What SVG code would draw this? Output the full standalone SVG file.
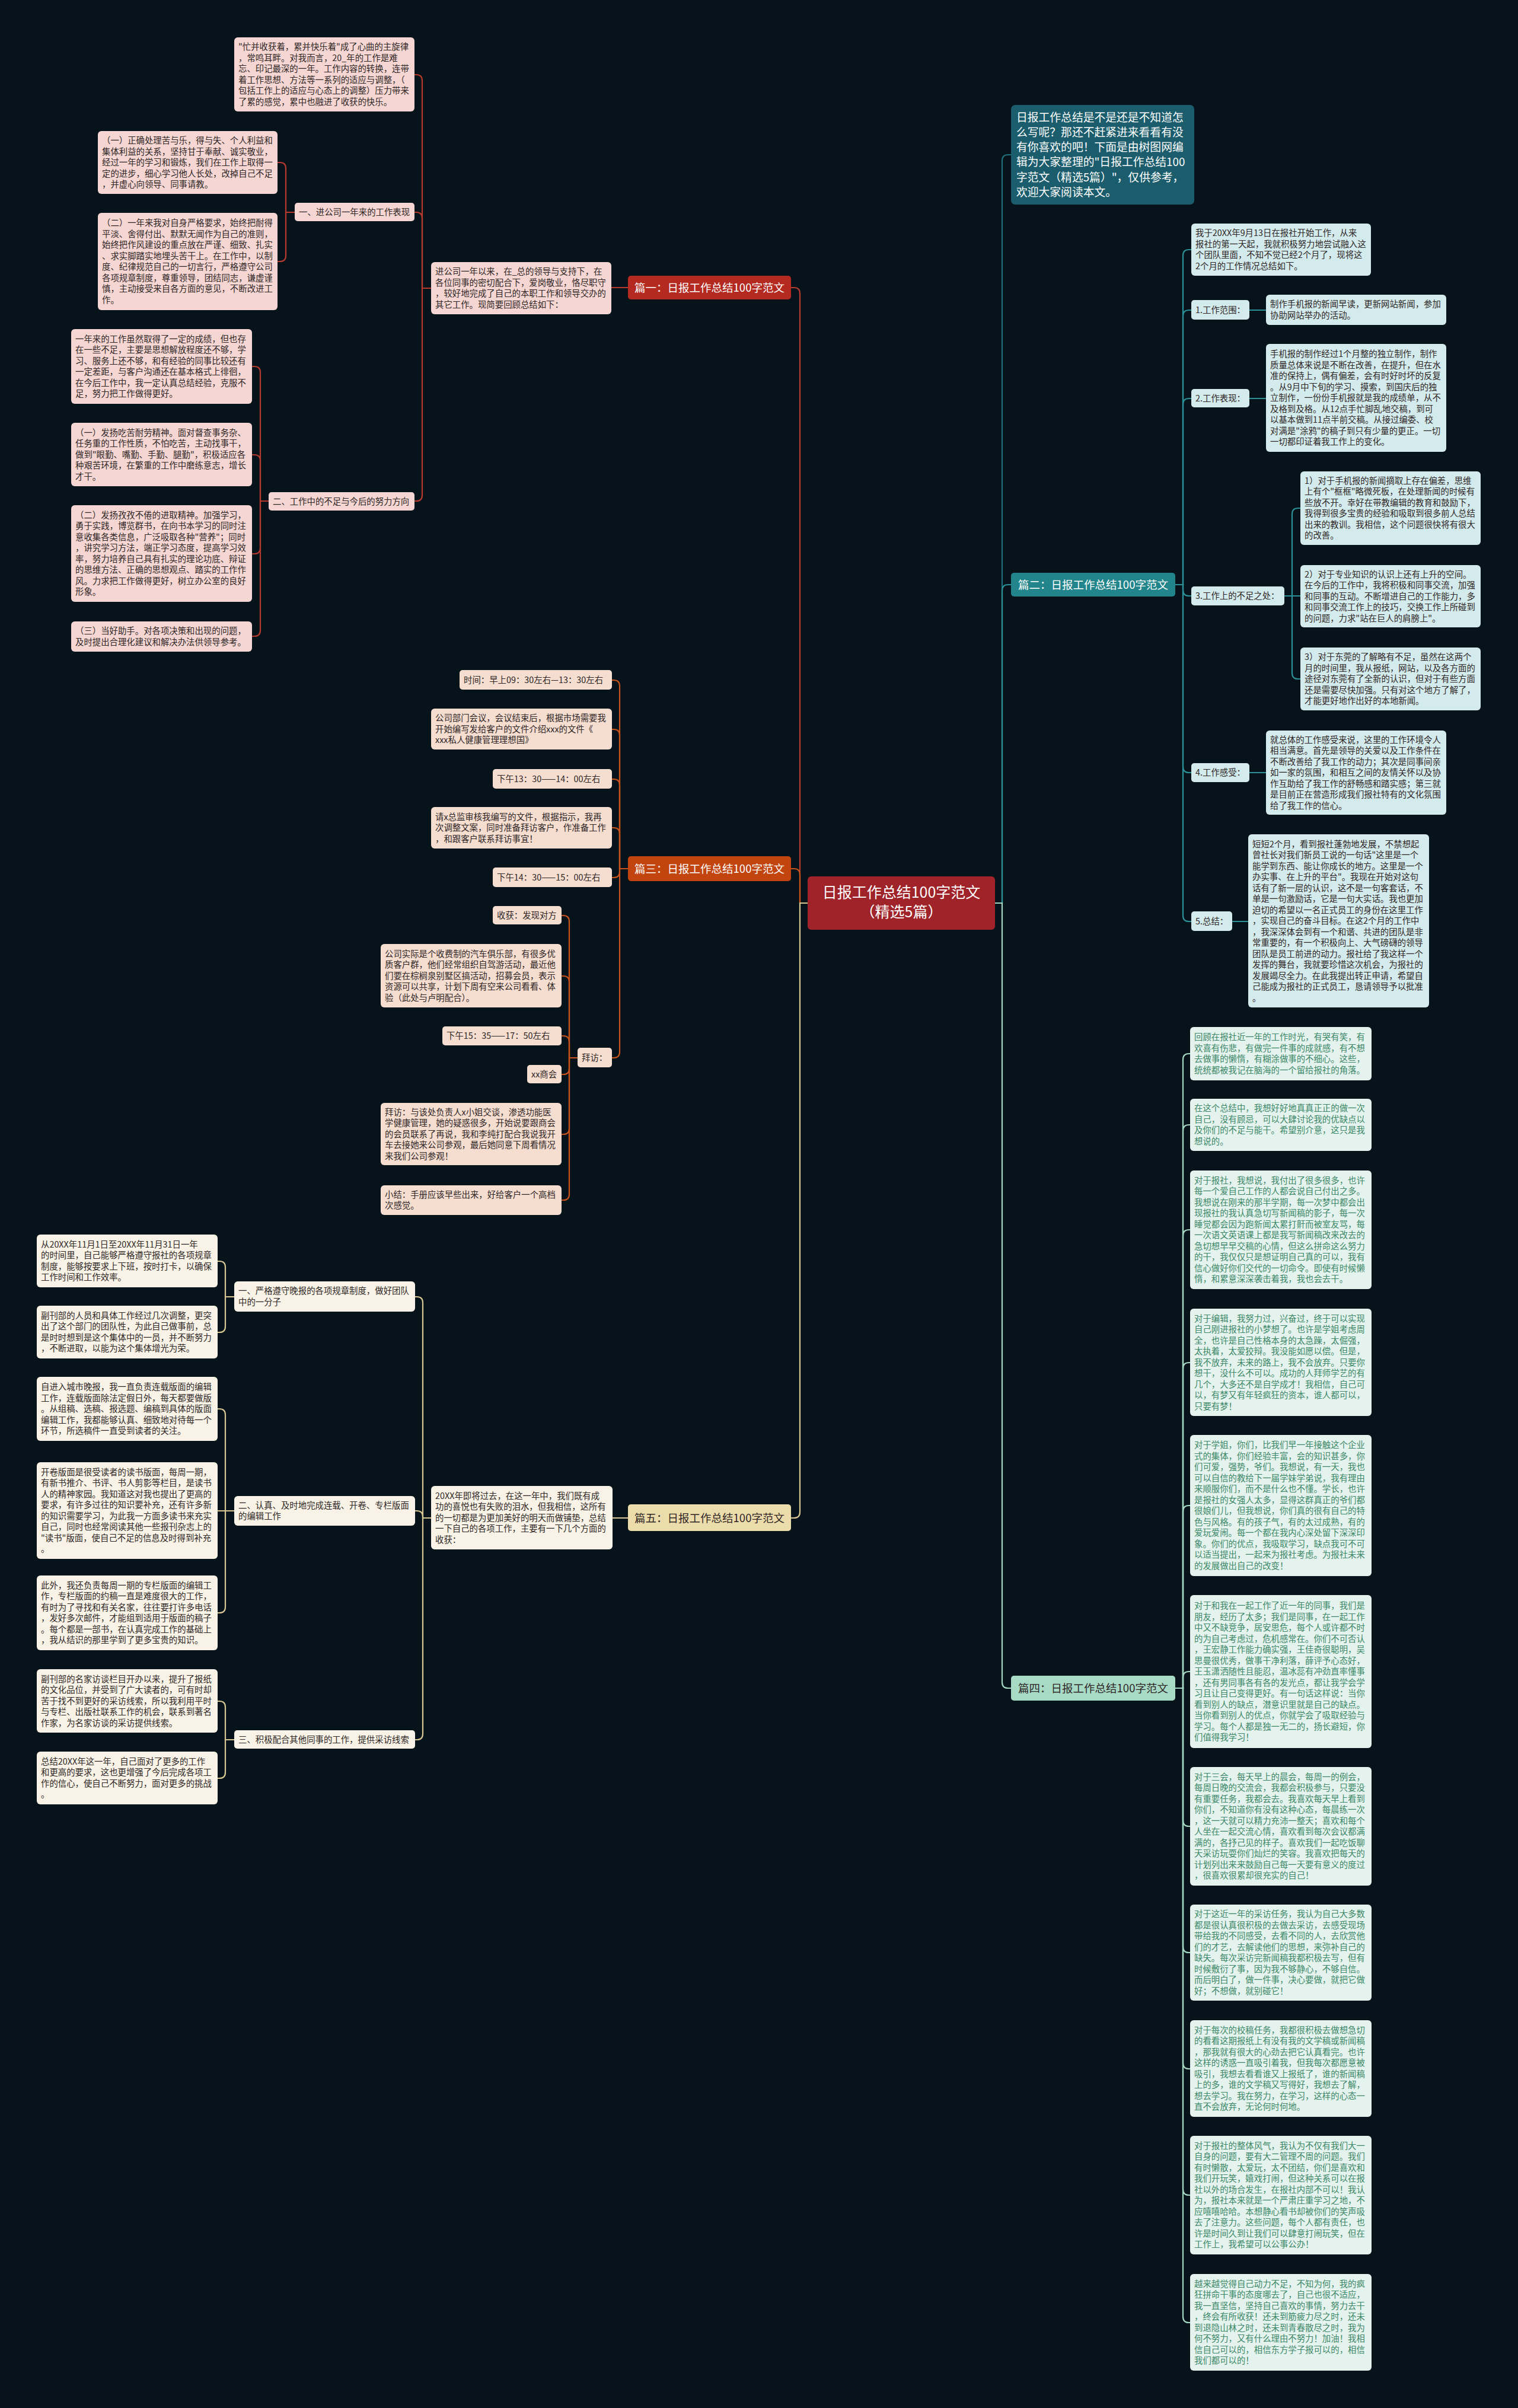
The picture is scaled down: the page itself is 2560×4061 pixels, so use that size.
<svg xmlns="http://www.w3.org/2000/svg" width="2560" height="4061" viewBox="0 0 2560 4061">
<style>
text{font-family:"Noto Sans CJK SC","Noto Sans",sans-serif;}
.t{font-size:14.4px;}
.b{font-size:18.5px;}
.w{fill:#ffffff;}
.d{fill:#2f2626;}
.g{fill:#3b8767;}
.c path{fill:none;stroke-width:2.2;stroke-linecap:round;}
.l1{stroke:#b63a2e;}
.l3{stroke:#c9531d;}
.l5{stroke:#d9c894;}
.l2{stroke:#2b9098;}
.l0{stroke:#1f6f7c;}
.l4{stroke:#a5d6c2;}
.f1{fill:#f5d6d3;}
.f3{fill:#f5ddd0;}
.f5{fill:#f8f3e6;}
.f2{fill:#d4ebed;}
.f4{fill:#e5f3ee;}
</style>
<rect x="0" y="0" width="2560" height="4061" fill="#07131a"/>

<g id="connectors" class="c">
<path class="l1" d="M1362,1523 H1349 V495 Q1349,485 1339,485 H1334"/>
<path class="l3" d="M1362,1523 H1349 V1475 Q1349,1465 1339,1465 H1334"/>
<path class="l5" d="M1362,1523 H1349 V2550 Q1349,2560 1339,2560 H1334"/>
<path class="l0" d="M1678,1523 H1690 V271 Q1690,261 1700,261 H1705"/>
<path class="l2" d="M1678,1523 H1690 V996 Q1690,986 1700,986 H1705"/>
<path class="l4" d="M1678,1523 H1690 V2837 Q1690,2847 1700,2847 H1705"/>

<path class="l1" d="M1059,485 H1031"/>
<path class="l1" d="M727,486 H712 V136 Q712,126 702,126 H699"/>
<path class="l1" d="M727,486 H712 V368 Q712,358 702,358 H699"/>
<path class="l1" d="M727,486 H712 V835 Q712,845 702,845 H699"/>
<path class="l1" d="M497,358 H482 V284 Q482,274 472,274 H468"/>
<path class="l1" d="M497,358 H482 V431 Q482,441 472,441 H468"/>
<path class="l1" d="M453,845 H439 V628 Q439,618 429,618 H425"/>
<path class="l1" d="M453,845 H439 V777 Q439,767 429,767 H425"/>
<path class="l1" d="M453,845 H439 V924 Q439,934 429,934 H425"/>
<path class="l1" d="M453,845 H439 V1063 Q439,1073 429,1073 H425"/>

<path class="l3" d="M1059,1465 H1045 V1157 Q1045,1147 1035,1147 H1032"/>
<path class="l3" d="M1059,1465 H1045 V1240 Q1045,1230 1035,1230 H1032"/>
<path class="l3" d="M1059,1465 H1045 V1324 Q1045,1314 1035,1314 H1032"/>
<path class="l3" d="M1059,1465 H1045 V1406 Q1045,1396 1035,1396 H1032"/>
<path class="l3" d="M1059,1465 H1045 V1470 Q1045,1480 1035,1480 H1032"/>
<path class="l3" d="M1059,1465 H1045 V1774 Q1045,1784 1035,1784 H1032"/>
<path class="l3" d="M974,1784 H960 V1554 Q960,1544 950,1544 H947"/>
<path class="l3" d="M974,1784 H960 V1656 Q960,1646 950,1646 H947"/>
<path class="l3" d="M974,1784 H960 V1757 Q960,1747 950,1747 H947"/>
<path class="l3" d="M974,1784 H960 V1802 Q960,1812 950,1812 H947"/>
<path class="l3" d="M974,1784 H960 V1903 Q960,1913 950,1913 H947"/>
<path class="l3" d="M974,1784 H960 V2014 Q960,2024 950,2024 H947"/>

<path class="l5" d="M1059,2560 H1033"/>
<path class="l5" d="M727,2560 H713 V2197 Q713,2187 703,2187 H700"/>
<path class="l5" d="M727,2560 H713 V2558 Q713,2548 703,2548 H700"/>
<path class="l5" d="M727,2560 H713 V2924 Q713,2934 703,2934 H700"/>
<path class="l5" d="M395,2187 H380 V2137 Q380,2127 370,2127 H367"/>
<path class="l5" d="M395,2187 H380 V2237 Q380,2247 370,2247 H367"/>
<path class="l5" d="M395,2548 H380 V2386 Q380,2376 370,2376 H367"/>
<path class="l5" d="M395,2548 H367"/>
<path class="l5" d="M395,2548 H380 V2710 Q380,2720 370,2720 H367"/>
<path class="l5" d="M395,2934 H380 V2879 Q380,2869 370,2869 H367"/>
<path class="l5" d="M395,2934 H380 V2989 Q380,2999 370,2999 H367"/>

<path class="l2" d="M1982,986 H1995 V431 Q1995,421 2005,421 H2009"/>
<path class="l2" d="M1982,986 H1995 V533 Q1995,523 2005,523 H2009"/>
<path class="l2" d="M1982,986 H1995 V682 Q1995,672 2005,672 H2009"/>
<path class="l2" d="M1982,986 H1995 V995 Q1995,1005 2005,1005 H2009"/>
<path class="l2" d="M1982,986 H1995 V1293 Q1995,1303 2005,1303 H2009"/>
<path class="l2" d="M1982,986 H1995 V1544 Q1995,1554 2005,1554 H2009"/>
<path class="l2" d="M2107,523 H2135"/>
<path class="l2" d="M2107,672 H2135"/>
<path class="l2" d="M2166,1005 H2179 V867 Q2179,857 2189,857 H2193"/>
<path class="l2" d="M2166,1005 H2193"/>
<path class="l2" d="M2166,1005 H2179 V1135 Q2179,1145 2189,1145 H2193"/>
<path class="l2" d="M2107,1303 H2135"/>
<path class="l2" d="M2078,1554 H2105"/>

<path class="l4" d="M1982,2847 H1995 V1787 Q1995,1777 2005,1777 H2007"/>
<path class="l4" d="M1982,2847 H1995 V1907 Q1995,1897 2005,1897 H2007"/>
<path class="l4" d="M1982,2847 H1995 V2084 Q1995,2074 2005,2074 H2007"/>
<path class="l4" d="M1982,2847 H1995 V2308 Q1995,2298 2005,2298 H2007"/>
<path class="l4" d="M1982,2847 H1995 V2549 Q1995,2539 2005,2539 H2007"/>
<path class="l4" d="M1982,2847 H1995 V2829 Q1995,2819 2005,2819 H2007"/>
<path class="l4" d="M1982,2847 H1995 V3070 Q1995,3080 2005,3080 H2007"/>
<path class="l4" d="M1982,2847 H1995 V3283 Q1995,3293 2005,3293 H2007"/>
<path class="l4" d="M1982,2847 H1995 V3479 Q1995,3489 2005,3489 H2007"/>
<path class="l4" d="M1982,2847 H1995 V3692 Q1995,3702 2005,3702 H2007"/>
<path class="l4" d="M1982,2847 H1995 V3907 Q1995,3917 2005,3917 H2007"/>
</g>

<g id="n-root">
<rect x="1362" y="1478" width="316" height="90" rx="6" fill="#a0232a"/>
<text class="w" font-size="25" text-anchor="middle" x="1520" y="1514">日报工作总结100字范文</text>
<text class="w" font-size="25" text-anchor="middle" x="1520" y="1547">（精选5篇）</text>
</g>

<!-- 篇一 -->
<g id="n-p1">
<rect x="1059" y="465" width="275" height="40" rx="5" fill="#b52a20"/>
<text class="b w" text-anchor="middle" x="1196.5" y="491.5">篇一：日报工作总结100字范文</text>
</g>
<g id="n-p1-main">
<rect class="f1" x="727" y="442" width="304" height="88" rx="6"/>
<text class="t d" x="734" y="463.25"><tspan x="734">进公司一年以来，在_总的领导与支持下，在</tspan><tspan x="734" dy="18.5">各位同事的密切配合下，爱岗敬业，恪尽职守</tspan><tspan x="734" dy="18.5">，较好地完成了自己的本职工作和领导交办的</tspan><tspan x="734" dy="18.5">其它工作。现简要回顾总结如下：</tspan></text>
</g>
<g id="n-p1-intro">
<rect class="f1" x="395" y="63" width="304" height="125" rx="6"/>
<text class="t d" x="402" y="84.25"><tspan x="402">"忙并收获着，累并快乐着"成了心曲的主旋律</tspan><tspan x="402" dy="18.5">，常鸣耳畔。对我而言，20_年的工作是难</tspan><tspan x="402" dy="18.5">忘、印记最深的一年。工作内容的转换，连带</tspan><tspan x="402" dy="18.5">着工作思想、方法等一系列的适应与调整，（</tspan><tspan x="402" dy="18.5">包括工作上的适应与心态上的调整）压力带来</tspan><tspan x="402" dy="18.5">了累的感觉，累中也融进了收获的快乐。</tspan></text>
</g>
<g id="n-p1-s1">
<rect class="f1" x="497" y="342" width="202" height="31" rx="5"/>
<text class="t d" x="504" y="362.5">一、进公司一年来的工作表现</text>
</g>
<g id="n-p1-s1a">
<rect class="f1" x="165" y="221" width="303" height="106" rx="6"/>
<text class="t d" x="172" y="242"><tspan x="172">（一）正确处理苦与乐，得与失、个人利益和</tspan><tspan x="172" dy="18.5">集体利益的关系，坚持甘于奉献、诚实敬业，</tspan><tspan x="172" dy="18.5">经过一年的学习和锻炼，我们在工作上取得一</tspan><tspan x="172" dy="18.5">定的进步，细心学习他人长处，改掉自己不足</tspan><tspan x="172" dy="18.5">，并虚心向领导、同事请教。</tspan></text>
</g>
<g id="n-p1-s1b">
<rect class="f1" x="165" y="359" width="303" height="164" rx="6"/>
<text class="t d" x="172" y="381.25"><tspan x="172">（二）一年来我对自身严格要求，始终把耐得</tspan><tspan x="172" dy="18.5">平淡、舍得付出、默默无闻作为自己的准则，</tspan><tspan x="172" dy="18.5">始终把作风建设的重点放在严谨、细致、扎实</tspan><tspan x="172" dy="18.5">、求实脚踏实地埋头苦干上。在工作中，以制</tspan><tspan x="172" dy="18.5">度、纪律规范自己的一切言行，严格遵守公司</tspan><tspan x="172" dy="18.5">各项规章制度，尊重领导，团结同志，谦虚谨</tspan><tspan x="172" dy="18.5">慎，主动接受来自各方面的意见，不断改进工</tspan><tspan x="172" dy="18.5">作。</tspan></text>
</g>
<g id="n-p1-s2">
<rect class="f1" x="453" y="830" width="246" height="31" rx="5"/>
<text class="t d" x="460" y="850.5">二、工作中的不足与今后的努力方向</text>
</g>
<g id="n-p1-s2a">
<rect class="f1" x="120" y="555" width="305" height="126" rx="6"/>
<text class="t d" x="127" y="576.75"><tspan x="127">一年来的工作虽然取得了一定的成绩，但也存</tspan><tspan x="127" dy="18.5">在一些不足，主要是思想解放程度还不够，学</tspan><tspan x="127" dy="18.5">习、服务上还不够，和有经验的同事比较还有</tspan><tspan x="127" dy="18.5">一定差距，与客户沟通还在基本格式上徘徊，</tspan><tspan x="127" dy="18.5">在今后工作中，我一定认真总结经验，克服不</tspan><tspan x="127" dy="18.5">足，努力把工作做得更好。</tspan></text>
</g>
<g id="n-p1-s2b">
<rect class="f1" x="120" y="713" width="305" height="107" rx="6"/>
<text class="t d" x="127" y="734.5"><tspan x="127">（一）发扬吃苦耐劳精神。面对督查事务杂、</tspan><tspan x="127" dy="18.5">任务重的工作性质，不怕吃苦，主动找事干，</tspan><tspan x="127" dy="18.5">做到"眼勤、嘴勤、手勤、腿勤"，积极适应各</tspan><tspan x="127" dy="18.5">种艰苦环境，在繁重的工作中磨练意志，增长</tspan><tspan x="127" dy="18.5">才干。</tspan></text>
</g>
<g id="n-p1-s2c">
<rect class="f1" x="120" y="852" width="305" height="163" rx="6"/>
<text class="t d" x="127" y="873.75"><tspan x="127">（二）发扬孜孜不倦的进取精神。加强学习，</tspan><tspan x="127" dy="18.5">勇于实践，博览群书，在向书本学习的同时注</tspan><tspan x="127" dy="18.5">意收集各类信息，广泛吸取各种"营养"；同时</tspan><tspan x="127" dy="18.5">，讲究学习方法，端正学习态度，提高学习效</tspan><tspan x="127" dy="18.5">率，努力培养自己具有扎实的理论功底、辩证</tspan><tspan x="127" dy="18.5">的思维方法、正确的思想观点、踏实的工作作</tspan><tspan x="127" dy="18.5">风。力求把工作做得更好，树立办公室的良好</tspan><tspan x="127" dy="18.5">形象。</tspan></text>
</g>
<g id="n-p1-s2d">
<rect class="f1" x="120" y="1048" width="305" height="51" rx="6"/>
<text class="t d" x="127" y="1069.25"><tspan x="127">（三）当好助手。对各项决策和出现的问题，</tspan><tspan x="127" dy="18.5">及时提出合理化建议和解决办法供领导参考。</tspan></text>
</g>

<!-- 篇三 -->
<g id="n-p3">
<rect x="1059" y="1444" width="275" height="42" rx="5" fill="#c2440f"/>
<text class="b w" text-anchor="middle" x="1196.5" y="1471.5">篇三：日报工作总结100字范文</text>
</g>
<g id="n-p3-1">
<rect class="f3" x="775" y="1130" width="257" height="33" rx="5"/>
<text class="t d" x="782" y="1151.5">时间：早上09：30左右—13：30左右</text>
</g>
<g id="n-p3-2">
<rect class="f3" x="727" y="1195" width="305" height="69" rx="6"/>
<text class="t d" x="734" y="1216"><tspan x="734">公司部门会议，会议结束后，根据市场需要我</tspan><tspan x="734" dy="18.5">开始编写发给客户的文件介绍xxx的文件《</tspan><tspan x="734" dy="18.5">xxx私人健康管理理想国》</tspan></text>
</g>
<g id="n-p3-3">
<rect class="f3" x="831" y="1297" width="201" height="33" rx="5"/>
<text class="t d" x="838" y="1318.5">下午13：30——14：00左右</text>
</g>
<g id="n-p3-4">
<rect class="f3" x="727" y="1361" width="305" height="70" rx="6"/>
<text class="t d" x="734" y="1382.5"><tspan x="734">请x总监审核我编写的文件，根据指示，我再</tspan><tspan x="734" dy="18.5">次调整文案，同时准备拜访客户，作准备工作</tspan><tspan x="734" dy="18.5">，和跟客户联系拜访事宜！</tspan></text>
</g>
<g id="n-p3-5">
<rect class="f3" x="831" y="1463" width="201" height="33" rx="5"/>
<text class="t d" x="838" y="1484.5">下午14：30——15：00左右</text>
</g>
<g id="n-p3-6">
<rect class="f3" x="974" y="1767" width="58" height="33" rx="5"/>
<text class="t d" x="981" y="1788.5">拜访：</text>
</g>
<g id="n-p3-6a">
<rect class="f3" x="831" y="1528" width="116" height="31" rx="5"/>
<text class="t d" x="838" y="1548.5">收获：发现对方</text>
</g>
<g id="n-p3-6b">
<rect class="f3" x="642" y="1592" width="305" height="107" rx="6"/>
<text class="t d" x="649" y="1613.5"><tspan x="649">公司实际是个收费制的汽车俱乐部，有很多优</tspan><tspan x="649" dy="18.5">质客户群，他们经常组织自驾游活动，最近他</tspan><tspan x="649" dy="18.5">们要在棕榈泉别墅区搞活动，招募会员，表示</tspan><tspan x="649" dy="18.5">资源可以共享，计划下周有空来公司看看、体</tspan><tspan x="649" dy="18.5">验（此处与卢明配合）。</tspan></text>
</g>
<g id="n-p3-6c">
<rect class="f3" x="746" y="1731" width="201" height="32" rx="5"/>
<text class="t d" x="753" y="1752">下午15：35——17：50左右</text>
</g>
<g id="n-p3-6d">
<rect class="f3" x="889" y="1796" width="58" height="31" rx="5"/>
<text class="t d" x="896" y="1816.5">xx商会</text>
</g>
<g id="n-p3-6e">
<rect class="f3" x="642" y="1860" width="305" height="105" rx="6"/>
<text class="t d" x="649" y="1880.5"><tspan x="649">拜访：与该处负责人x小姐交谈，渗透功能医</tspan><tspan x="649" dy="18.5">学健康管理，她的疑惑很多，开始说要跟商会</tspan><tspan x="649" dy="18.5">的会员联系了再说，我和李纯打配合我说我开</tspan><tspan x="649" dy="18.5">车去接她来公司参观，最后她同意下周看情况</tspan><tspan x="649" dy="18.5">来我们公司参观！</tspan></text>
</g>
<g id="n-p3-6f">
<rect class="f3" x="642" y="1999" width="305" height="50" rx="6"/>
<text class="t d" x="649" y="2019.75"><tspan x="649">小结：手册应该早些出来，好给客户一个高档</tspan><tspan x="649" dy="18.5">次感觉。</tspan></text>
</g>

<!-- 篇五 -->
<g id="n-p5">
<rect x="1059" y="2537" width="275" height="45" rx="5" fill="#eddcab"/>
<text class="b d" text-anchor="middle" x="1196.5" y="2566.5">篇五：日报工作总结100字范文</text>
</g>
<g id="n-p5-main">
<rect class="f5" x="727" y="2506" width="306" height="107" rx="6"/>
<text class="t d" x="734" y="2527.5"><tspan x="734">20XX年即将过去，在这一年中，我们既有成</tspan><tspan x="734" dy="18.5">功的喜悦也有失败的泪水，但我相信，这所有</tspan><tspan x="734" dy="18.5">的一切都是为更加美好的明天而做铺垫，总结</tspan><tspan x="734" dy="18.5">一下自己的各项工作，主要有一下几个方面的</tspan><tspan x="734" dy="18.5">收获：</tspan></text>
</g>
<g id="n-p5-s1">
<rect class="f5" x="395" y="2161" width="305" height="51" rx="6"/>
<text class="t d" x="402" y="2182.25"><tspan x="402">一、严格遵守晚报的各项规章制度，做好团队</tspan><tspan x="402" dy="18.5">中的一分子</tspan></text>
</g>
<g id="n-p5-s1a">
<rect class="f5" x="62" y="2082" width="305" height="89" rx="6"/>
<text class="t d" x="69" y="2103.75"><tspan x="69">从20XX年11月1日至20XX年11月31日一年</tspan><tspan x="69" dy="18.5">的时间里，自己能够严格遵守报社的各项规章</tspan><tspan x="69" dy="18.5">制度，能够按要求上下班，按时打卡，以确保</tspan><tspan x="69" dy="18.5">工作时间和工作效率。</tspan></text>
</g>
<g id="n-p5-s1b">
<rect class="f5" x="62" y="2202" width="305" height="89" rx="6"/>
<text class="t d" x="69" y="2223.75"><tspan x="69">副刊部的人员和具体工作经过几次调整，更突</tspan><tspan x="69" dy="18.5">出了这个部门的团队性，为此自己做事前，总</tspan><tspan x="69" dy="18.5">是时时想到是这个集体中的一员，并不断努力</tspan><tspan x="69" dy="18.5">，不断进取，以能为这个集体增光为荣。</tspan></text>
</g>
<g id="n-p5-s2">
<rect class="f5" x="395" y="2523" width="305" height="50" rx="6"/>
<text class="t d" x="402" y="2543.75"><tspan x="402">二、认真、及时地完成连载、开卷、专栏版面</tspan><tspan x="402" dy="18.5">的编辑工作</tspan></text>
</g>
<g id="n-p5-s2a">
<rect class="f5" x="62" y="2322" width="305" height="108" rx="6"/>
<text class="t d" x="69" y="2344"><tspan x="69">自进入城市晚报，我一直负责连载版面的编辑</tspan><tspan x="69" dy="18.5">工作，连载版面除法定假日外，每天都要做版</tspan><tspan x="69" dy="18.5">。从组稿、选稿、报选题、编稿到具体的版面</tspan><tspan x="69" dy="18.5">编辑工作，我都能够认真、细致地对待每一个</tspan><tspan x="69" dy="18.5">环节，所选稿件一直受到读者的关注。</tspan></text>
</g>
<g id="n-p5-s2b">
<rect class="f5" x="62" y="2466" width="305" height="163" rx="6"/>
<text class="t d" x="69" y="2487.75"><tspan x="69">开卷版面是很受读者的读书版面，每周一期，</tspan><tspan x="69" dy="18.5">有新书推介、书评、书人剪影等栏目，是读书</tspan><tspan x="69" dy="18.5">人的精神家园。我知道这对我也提出了更高的</tspan><tspan x="69" dy="18.5">要求，有许多过往的知识要补充，还有许多新</tspan><tspan x="69" dy="18.5">的知识需要学习，为此我一方面多读书来充实</tspan><tspan x="69" dy="18.5">自己，同时也经常阅读其他一些报刊杂志上的</tspan><tspan x="69" dy="18.5">"读书"版面，使自己不足的信息及时得到补充</tspan><tspan x="69" dy="18.5">。</tspan></text>
</g>
<g id="n-p5-s2c">
<rect class="f5" x="62" y="2657" width="305" height="126" rx="6"/>
<text class="t d" x="69" y="2678.75"><tspan x="69">此外，我还负责每周一期的专栏版面的编辑工</tspan><tspan x="69" dy="18.5">作，专栏版面的约稿一直是难度很大的工作，</tspan><tspan x="69" dy="18.5">有时为了寻找和有关名家，往往要打许多电话</tspan><tspan x="69" dy="18.5">，发好多次邮件，才能组到适用于版面的稿子</tspan><tspan x="69" dy="18.5">。每个都是一部书，在认真完成工作的基础上</tspan><tspan x="69" dy="18.5">，我从结识的那里学到了更多宝贵的知识。</tspan></text>
</g>
<g id="n-p5-s3">
<rect class="f5" x="395" y="2918" width="305" height="31" rx="5"/>
<text class="t d" x="402" y="2938.5">三、积极配合其他同事的工作，提供采访线索</text>
</g>
<g id="n-p5-s3a">
<rect class="f5" x="62" y="2815" width="305" height="107" rx="6"/>
<text class="t d" x="69" y="2836.5"><tspan x="69">副刊部的名家访谈栏目开办以来，提升了报纸</tspan><tspan x="69" dy="18.5">的文化品位，并受到了广大读者的，可有时却</tspan><tspan x="69" dy="18.5">苦于找不到更好的采访线索，所以我利用平时</tspan><tspan x="69" dy="18.5">与专栏、出版社联系工作的机会，联系到著名</tspan><tspan x="69" dy="18.5">作家，为名家访谈的采访提供线索。</tspan></text>
</g>
<g id="n-p5-s3b">
<rect class="f5" x="62" y="2954" width="305" height="89" rx="6"/>
<text class="t d" x="69" y="2975.75"><tspan x="69">总结20XX年这一年，自己面对了更多的工作</tspan><tspan x="69" dy="18.5">和更高的要求，这也更增强了今后完成各项工</tspan><tspan x="69" dy="18.5">作的信心，使自己不断努力，面对更多的挑战</tspan><tspan x="69" dy="18.5">。</tspan></text>
</g>

<!-- intro -->
<g id="n-intro">
<rect x="1705" y="177" width="309" height="168" rx="7" fill="#1c5d6d"/>
<text class="w" font-size="18.8" x="1714" y="204.5"><tspan x="1714">日报工作总结是不是还是不知道怎</tspan><tspan x="1714" dy="25.3">么写呢？那还不赶紧进来看看有没</tspan><tspan x="1714" dy="25.3">有你喜欢的吧！下面是由树图网编</tspan><tspan x="1714" dy="25.3">辑为大家整理的"日报工作总结100</tspan><tspan x="1714" dy="25.3">字范文（精选5篇）"，仅供参考，</tspan><tspan x="1714" dy="25.3">欢迎大家阅读本文。</tspan></text>
</g>

<!-- 篇二 -->
<g id="n-p2">
<rect x="1705" y="966" width="277" height="40" rx="5" fill="#22858c"/>
<text class="b w" text-anchor="middle" x="1843.5" y="992.5">篇二：日报工作总结100字范文</text>
</g>
<g id="n-p2-1">
<rect class="f2" x="2009" y="377" width="303" height="88" rx="6"/>
<text class="t d" x="2016" y="398.25"><tspan x="2016">我于20XX年9月13日在报社开始工作，从来</tspan><tspan x="2016" dy="18.5">报社的第一天起，我就积极努力地尝试融入这</tspan><tspan x="2016" dy="18.5">个团队里面，不知不觉已经2个月了，现将这</tspan><tspan x="2016" dy="18.5">2个月的工作情况总结如下。</tspan></text>
</g>
<g id="n-p2-2">
<rect class="f2" x="2009" y="506" width="98" height="33" rx="5"/>
<text class="t d" x="2016" y="527.5">1.工作范围：</text>
</g>
<g id="n-p2-2a">
<rect class="f2" x="2135" y="497" width="304" height="51" rx="6"/>
<text class="t d" x="2142" y="518.25"><tspan x="2142">制作手机报的新闻早读，更新网站新闻，参加</tspan><tspan x="2142" dy="18.5">协助网站举办的活动。</tspan></text>
</g>
<g id="n-p2-3">
<rect class="f2" x="2009" y="656" width="98" height="31" rx="5"/>
<text class="t d" x="2016" y="676.5">2.工作表现：</text>
</g>
<g id="n-p2-3a">
<rect class="f2" x="2135" y="580" width="304" height="182" rx="6"/>
<text class="t d" x="2142" y="602"><tspan x="2142">手机报的制作经过1个月整的独立制作，制作</tspan><tspan x="2142" dy="18.5">质量总体来说是不断在改善，在提升，但在水</tspan><tspan x="2142" dy="18.5">准的保持上，偶有偏差，会有时好时坏的反复</tspan><tspan x="2142" dy="18.5">。从9月中下旬的学习、摸索，到国庆后的独</tspan><tspan x="2142" dy="18.5">立制作，一份份手机报就是我的成绩单，从不</tspan><tspan x="2142" dy="18.5">及格到及格。从12点手忙脚乱地交稿，到可</tspan><tspan x="2142" dy="18.5">以基本做到11点半前交稿。从接过编委、校</tspan><tspan x="2142" dy="18.5">对满是"涂鸦"的稿子到只有少量的更正。一切</tspan><tspan x="2142" dy="18.5">一切都印证着我工作上的变化。</tspan></text>
</g>
<g id="n-p2-4">
<rect class="f2" x="2009" y="989" width="157" height="32" rx="5"/>
<text class="t d" x="2016" y="1010">3.工作上的不足之处：</text>
</g>
<g id="n-p2-4a">
<rect class="f2" x="2193" y="795" width="304" height="124" rx="6"/>
<text class="t d" x="2200" y="815.75"><tspan x="2200">1）对于手机报的新闻摘取上存在偏差，思维</tspan><tspan x="2200" dy="18.5">上有个"框框"略微死板，在处理新闻的时候有</tspan><tspan x="2200" dy="18.5">些放不开。幸好在带教编辑的教育和鼓励下，</tspan><tspan x="2200" dy="18.5">我得到很多宝贵的经验和吸取到很多前人总结</tspan><tspan x="2200" dy="18.5">出来的教训。我相信，这个问题很快将有很大</tspan><tspan x="2200" dy="18.5">的改善。</tspan></text>
</g>
<g id="n-p2-4b">
<rect class="f2" x="2193" y="953" width="304" height="105" rx="6"/>
<text class="t d" x="2200" y="973.5"><tspan x="2200">2）对于专业知识的认识上还有上升的空间。</tspan><tspan x="2200" dy="18.5">在今后的工作中，我将积极和同事交流，加强</tspan><tspan x="2200" dy="18.5">和同事的互动。不断增进自己的工作能力，多</tspan><tspan x="2200" dy="18.5">和同事交流工作上的技巧，交换工作上所碰到</tspan><tspan x="2200" dy="18.5">的问题，力求"站在巨人的肩膀上"。</tspan></text>
</g>
<g id="n-p2-4c">
<rect class="f2" x="2193" y="1092" width="304" height="106" rx="6"/>
<text class="t d" x="2200" y="1113"><tspan x="2200">3）对于东莞的了解略有不足，虽然在这两个</tspan><tspan x="2200" dy="18.5">月的时间里，我从报纸，网站，以及各方面的</tspan><tspan x="2200" dy="18.5">途径对东莞有了全新的认识，但对于有些方面</tspan><tspan x="2200" dy="18.5">还是需要尽快加强。只有对这个地方了解了，</tspan><tspan x="2200" dy="18.5">才能更好地作出好的本地新闻。</tspan></text>
</g>
<g id="n-p2-5">
<rect class="f2" x="2009" y="1287" width="98" height="32" rx="5"/>
<text class="t d" x="2016" y="1308">4.工作感受：</text>
</g>
<g id="n-p2-5a">
<rect class="f2" x="2135" y="1232" width="304" height="142" rx="6"/>
<text class="t d" x="2142" y="1252.5"><tspan x="2142">就总体的工作感受来说，这里的工作环境令人</tspan><tspan x="2142" dy="18.5">相当满意。首先是领导的关爱以及工作条件在</tspan><tspan x="2142" dy="18.5">不断改善给了我工作的动力；其次是同事间亲</tspan><tspan x="2142" dy="18.5">如一家的氛围，和相互之间的友情关怀以及协</tspan><tspan x="2142" dy="18.5">作互助给了我工作的舒畅感和踏实感；第三就</tspan><tspan x="2142" dy="18.5">是目前正在营造形成我们报社特有的文化氛围</tspan><tspan x="2142" dy="18.5">给了我工作的信心。</tspan></text>
</g>
<g id="n-p2-6">
<rect class="f2" x="2009" y="1537" width="69" height="33" rx="5"/>
<text class="t d" x="2016" y="1558.5">5.总结：</text>
</g>
<g id="n-p2-6a">
<rect class="f2" x="2105" y="1407" width="305" height="292" rx="6"/>
<text class="t d" x="2112" y="1428.5"><tspan x="2112">短短2个月，看到报社蓬勃地发展，不禁想起</tspan><tspan x="2112" dy="18.5">曾社长对我们新员工说的一句话"这里是一个</tspan><tspan x="2112" dy="18.5">能学到东西、能让你成长的地方。这里是一个</tspan><tspan x="2112" dy="18.5">办实事、在上升的平台"。我现在开始对这句</tspan><tspan x="2112" dy="18.5">话有了新一层的认识，这不是一句客套话，不</tspan><tspan x="2112" dy="18.5">单是一句激励话，它是一句大实话。我也更加</tspan><tspan x="2112" dy="18.5">迫切的希望以一名正式员工的身份在这里工作</tspan><tspan x="2112" dy="18.5">，实现自己的奋斗目标。在这2个月的工作中</tspan><tspan x="2112" dy="18.5">，我深深体会到有一个和谐、共进的团队是非</tspan><tspan x="2112" dy="18.5">常重要的，有一个积极向上、大气磅礴的领导</tspan><tspan x="2112" dy="18.5">团队是员工前进的动力。报社给了我这样一个</tspan><tspan x="2112" dy="18.5">发挥的舞台，我就要珍惜这次机会，为报社的</tspan><tspan x="2112" dy="18.5">发展竭尽全力。在此我提出转正申请，希望自</tspan><tspan x="2112" dy="18.5">己能成为报社的正式员工，恳请领导予以批准</tspan><tspan x="2112" dy="18.5">。</tspan></text>
</g>

<!-- 篇四 -->
<g id="n-p4">
<rect x="1705" y="2826" width="277" height="42" rx="5" fill="#a7dbc6"/>
<text class="b d" text-anchor="middle" x="1843.5" y="2853.5">篇四：日报工作总结100字范文</text>
</g>
<g id="n-p4-1">
<rect class="f4" x="2007" y="1732" width="306" height="90" rx="6"/>
<text class="t g" x="2014" y="1754.25"><tspan x="2014">回顾在报社近一年的工作时光，有哭有笑，有</tspan><tspan x="2014" dy="18.5">欢喜有伤悲，有做完一件事的成就感，有不想</tspan><tspan x="2014" dy="18.5">去做事的懒惰，有糊涂做事的不细心。这些，</tspan><tspan x="2014" dy="18.5">统统都被我记在脑海的一个留给报社的角落。</tspan></text>
</g>
<g id="n-p4-2">
<rect class="f4" x="2007" y="1853" width="306" height="88" rx="6"/>
<text class="t g" x="2014" y="1874.25"><tspan x="2014">在这个总结中，我想好好地真真正正的做一次</tspan><tspan x="2014" dy="18.5">自己，没有顾忌，可以大肆讨论我的优缺点以</tspan><tspan x="2014" dy="18.5">及你们的不足与能干。希望别介意，这只是我</tspan><tspan x="2014" dy="18.5">想说的。</tspan></text>
</g>
<g id="n-p4-3">
<rect class="f4" x="2007" y="1974" width="306" height="200" rx="6"/>
<text class="t g" x="2014" y="1995.75"><tspan x="2014">对于报社，我想说，我付出了很多很多，也许</tspan><tspan x="2014" dy="18.5">每一个爱自己工作的人都会说自己付出之多。</tspan><tspan x="2014" dy="18.5">我想说在刚来的那半学期，每一次梦中都会出</tspan><tspan x="2014" dy="18.5">现报社的我认真急切写新闻稿的影子，每一次</tspan><tspan x="2014" dy="18.5">睡觉都会因为跑新闻太累打鼾而被室友骂，每</tspan><tspan x="2014" dy="18.5">一次语文英语课上都是我写新闻稿改来改去的</tspan><tspan x="2014" dy="18.5">急切想早早交稿的心情，但这么拼命这么努力</tspan><tspan x="2014" dy="18.5">的干，我仅仅只是想证明自己真的可以，我有</tspan><tspan x="2014" dy="18.5">信心做好你们交代的一切命令。即使有时候懒</tspan><tspan x="2014" dy="18.5">惰，和累意深深袭击着我，我也会去干。</tspan></text>
</g>
<g id="n-p4-4">
<rect class="f4" x="2007" y="2207" width="306" height="181" rx="6"/>
<text class="t g" x="2014" y="2228.5"><tspan x="2014">对于编辑，我努力过，兴奋过，终于可以实现</tspan><tspan x="2014" dy="18.5">自己刚进报社的小梦想了。也许是学姐考虑周</tspan><tspan x="2014" dy="18.5">全，也许是自己性格本身的太急躁，太倔强，</tspan><tspan x="2014" dy="18.5">太执着，太爱狡辩。我没能如愿以偿。但是，</tspan><tspan x="2014" dy="18.5">我不放弃，未来的路上，我不会放弃。只要你</tspan><tspan x="2014" dy="18.5">想干，没什么不可以。成功的人拜师学艺的有</tspan><tspan x="2014" dy="18.5">几个，大多还不是自学成才！我相信，自己可</tspan><tspan x="2014" dy="18.5">以，有梦又有年轻疯狂的资本，谁人都可以，</tspan><tspan x="2014" dy="18.5">只要有梦！</tspan></text>
</g>
<g id="n-p4-5">
<rect class="f4" x="2007" y="2420" width="306" height="238" rx="6"/>
<text class="t g" x="2014" y="2442.25"><tspan x="2014">对于学姐，你们，比我们早一年接触这个企业</tspan><tspan x="2014" dy="18.5">式的集体，你们经验丰富，会的知识甚多，你</tspan><tspan x="2014" dy="18.5">们可爱，强势，爷们。我想说，有一天，我也</tspan><tspan x="2014" dy="18.5">可以自信的教给下一届学妹学弟说，我有理由</tspan><tspan x="2014" dy="18.5">来顺服你们，而不是什么也不懂。学长，也许</tspan><tspan x="2014" dy="18.5">是报社的女强人太多，显得这群真正的爷们都</tspan><tspan x="2014" dy="18.5">很娘们儿，但我想说，你们真的很有自己的特</tspan><tspan x="2014" dy="18.5">色与风格。有的孩子气，有的太过成熟，有的</tspan><tspan x="2014" dy="18.5">爱玩爱闹。每一个都在我内心深处留下深深印</tspan><tspan x="2014" dy="18.5">象。你们的优点，我吸取学习，缺点我可不可</tspan><tspan x="2014" dy="18.5">以适当提出，一起来为报社考虑。为报社未来</tspan><tspan x="2014" dy="18.5">的发展做出自己的改变！</tspan></text>
</g>
<g id="n-p4-6">
<rect class="f4" x="2007" y="2690" width="306" height="258" rx="6"/>
<text class="t g" x="2014" y="2713"><tspan x="2014">对于和我在一起工作了近一年的同事，我们是</tspan><tspan x="2014" dy="18.5">朋友，经历了太多；我们是同事，在一起工作</tspan><tspan x="2014" dy="18.5">中又不缺竞争，居安思危，每个人或许都不时</tspan><tspan x="2014" dy="18.5">的为自己考虑过，危机感常在。你们不可否认</tspan><tspan x="2014" dy="18.5">，王宏静工作能力确实强，王佳奇很聪明，吴</tspan><tspan x="2014" dy="18.5">思曼很优秀，做事干净利落，薛评予心态好，</tspan><tspan x="2014" dy="18.5">王玉潇洒随性且能忍，温冰蕊有冲劲直率懂事</tspan><tspan x="2014" dy="18.5">，还有男同事各有各的发光点，都让我学会学</tspan><tspan x="2014" dy="18.5">习且让自己变得更好。有一句话这样说：当你</tspan><tspan x="2014" dy="18.5">看到别人的缺点，潜意识里就是自己的缺点。</tspan><tspan x="2014" dy="18.5">当你看到别人的优点，你就学会了吸取经验与</tspan><tspan x="2014" dy="18.5">学习。每个人都是独一无二的，扬长避短，你</tspan><tspan x="2014" dy="18.5">们值得我学习！</tspan></text>
</g>
<g id="n-p4-7">
<rect class="f4" x="2007" y="2980" width="306" height="200" rx="6"/>
<text class="t g" x="2014" y="3001.75"><tspan x="2014">对于三会，每天早上的晨会，每周一的例会，</tspan><tspan x="2014" dy="18.5">每周日晚的交流会，我都会积极参与，只要没</tspan><tspan x="2014" dy="18.5">有重要任务，我都会去。我喜欢每天早上看到</tspan><tspan x="2014" dy="18.5">你们，不知道你有没有这种心态，每晨练一次</tspan><tspan x="2014" dy="18.5">，这一天就可以精力充沛一整天；喜欢和每个</tspan><tspan x="2014" dy="18.5">人坐在一起交流心情，喜欢看到每次会议都满</tspan><tspan x="2014" dy="18.5">满的，各抒己见的样子。喜欢我们一起吃饭聊</tspan><tspan x="2014" dy="18.5">天采访玩耍你们灿烂的笑容。我喜欢把每天的</tspan><tspan x="2014" dy="18.5">计划列出来来鼓励自己每一天要有意义的度过</tspan><tspan x="2014" dy="18.5">，很喜欢很累却很充实的自己！</tspan></text>
</g>
<g id="n-p4-8">
<rect class="f4" x="2007" y="3212" width="306" height="162" rx="6"/>
<text class="t g" x="2014" y="3233.25"><tspan x="2014">对于这近一年的采访任务，我认为自己大多数</tspan><tspan x="2014" dy="18.5">都是很认真很积极的去做去采访，去感受现场</tspan><tspan x="2014" dy="18.5">带给我的不同感受，去看不同的人，去欣赏他</tspan><tspan x="2014" dy="18.5">们的才艺，去解读他们的思想，来弥补自己的</tspan><tspan x="2014" dy="18.5">缺失。每次采访完新闻稿我都积极去写，但有</tspan><tspan x="2014" dy="18.5">时候敷衍了事，因为我不够静心，不够自信。</tspan><tspan x="2014" dy="18.5">而后明白了，做一件事，决心要做，就把它做</tspan><tspan x="2014" dy="18.5">好；不想做，就别碰它！</tspan></text>
</g>
<g id="n-p4-9">
<rect class="f4" x="2007" y="3407" width="306" height="163" rx="6"/>
<text class="t g" x="2014" y="3428.75"><tspan x="2014">对于每次的校稿任务，我都很积极去做想急切</tspan><tspan x="2014" dy="18.5">的看看这期报纸上有没有我的文学稿或新闻稿</tspan><tspan x="2014" dy="18.5">，那我就有很大的心劲去把它认真看完。也许</tspan><tspan x="2014" dy="18.5">这样的诱惑一直吸引着我，但我每次都愿意被</tspan><tspan x="2014" dy="18.5">吸引，我想去看看谁又上报纸了，谁的新闻稿</tspan><tspan x="2014" dy="18.5">上的多，谁的文学稿又写得好，我想去了解，</tspan><tspan x="2014" dy="18.5">想去学习。我在努力，在学习，这样的心态一</tspan><tspan x="2014" dy="18.5">直不会放弃，无论何时何地。</tspan></text>
</g>
<g id="n-p4-10">
<rect class="f4" x="2007" y="3602" width="306" height="200" rx="6"/>
<text class="t g" x="2014" y="3623.75"><tspan x="2014">对于报社的整体风气，我认为不仅有我们大一</tspan><tspan x="2014" dy="18.5">自身的问题，要有大二管理不周的问题。我们</tspan><tspan x="2014" dy="18.5">有时懒散，太爱玩，太不团结，你们是喜欢和</tspan><tspan x="2014" dy="18.5">我们开玩笑，嬉戏打闹，但这种关系可以在报</tspan><tspan x="2014" dy="18.5">社以外的场合发生，在报社内部不可以！我认</tspan><tspan x="2014" dy="18.5">为，报社本来就是一个严肃庄重学习之地，不</tspan><tspan x="2014" dy="18.5">应嘻嘻哈哈。本想静心看书却被你们的笑声吸</tspan><tspan x="2014" dy="18.5">去了注意力。这些问题，每个人都有责任，也</tspan><tspan x="2014" dy="18.5">许是时间久到让我们可以肆意打闹玩笑，但在</tspan><tspan x="2014" dy="18.5">工作上，我希望可以公事公办！</tspan></text>
</g>
<g id="n-p4-11">
<rect class="f4" x="2007" y="3835" width="306" height="163" rx="6"/>
<text class="t g" x="2014" y="3856.75"><tspan x="2014">越来越觉得自己动力不足，不知为何，我的疯</tspan><tspan x="2014" dy="18.5">狂拼命干事的态度哪去了，自己也很不适应，</tspan><tspan x="2014" dy="18.5">我一直坚信，坚持自己喜欢的事情，努力去干</tspan><tspan x="2014" dy="18.5">，终会有所收获！还未到筋疲力尽之时，还未</tspan><tspan x="2014" dy="18.5">到退隐山林之时，还未到青春散尽之时，我为</tspan><tspan x="2014" dy="18.5">何不努力，又有什么理由不努力！加油！我相</tspan><tspan x="2014" dy="18.5">信自己可以的，相信东方学子报可以的，相信</tspan><tspan x="2014" dy="18.5">我们都可以的！</tspan></text>
</g>
</svg>
